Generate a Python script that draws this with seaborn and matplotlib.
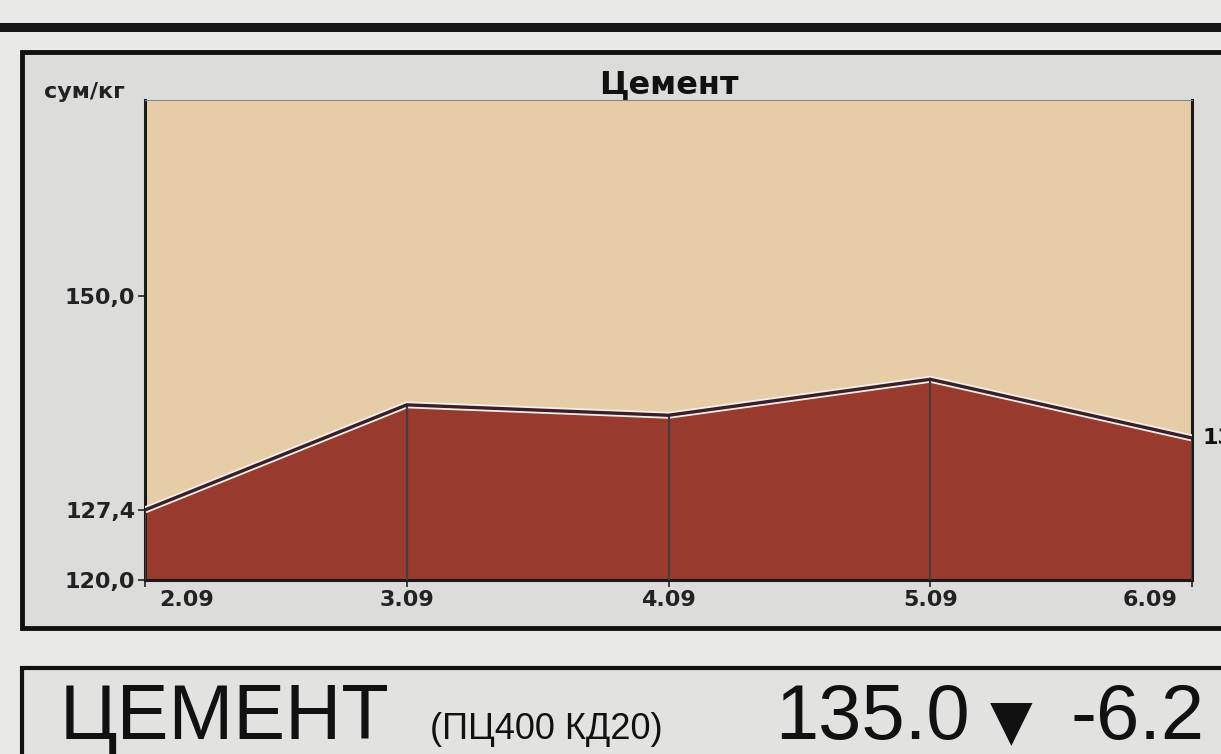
import matplotlib
matplotlib.use("Agg")
import matplotlib.pyplot as plt
import matplotlib.transforms as mtransforms
import seaborn as sns
import pandas as pd
from matplotlib.patches import Rectangle

dates = ["2.09", "3.09", "4.09", "5.09", "6.09"]
prices = [127.4, 138.5, 137.4, 141.2, 135.0]
ytick_vals = [120.0, 127.4, 150.0]
ytick_labels = ["120,0", "127,4", "150,0"]
title = "Цемент"
unit = "сум/кг"
last_label = "135,0"

sns.set_theme(style="white")
plt.rcParams['font.family'] = ['Liberation Sans', 'DejaVu Sans']
CHART_FONT = ["DejaVu Sans"]

W, H = 1221, 754
fig = plt.figure(figsize=(W / 100, H / 100), dpi=100)
fig.patch.set_facecolor("#e9e9e7")

def fx(px): return px / W
def fy(py): return 1 - py / H

# panels (behind the axes)
fig.add_artist(Rectangle((0, fy(32)), 1, 0.012, transform=fig.transFigure,
                         facecolor="#151515", edgecolor="none", zorder=-5))
fig.add_artist(Rectangle((fx(22), fy(628)), 1.1, fy(52) - fy(628), transform=fig.transFigure,
                         facecolor="#dcdcdb", edgecolor="#111111", linewidth=3.5, zorder=-5))
fig.add_artist(Rectangle((fx(22), fy(800)), 1.1, fy(668) - fy(800), transform=fig.transFigure,
                         facecolor="#e2e2e0", edgecolor="#111111", linewidth=3.0, zorder=-5))

ax = fig.add_axes([fx(145), fy(580), fx(1192) - fx(145), fy(100) - fy(580)])
ax.set_zorder(2)
ax.set_facecolor("#e7cda7")

df = pd.DataFrame({"date": dates, "price": prices})
xs = list(range(len(dates)))
df["x"] = xs
ymin, ymax = 120.0, 170.7
ax.fill_between(df["x"], ymin, df["price"], color="#983a2d", zorder=2)
sns.lineplot(data=df, x="x", y="price", ax=ax, color="#f4efe6", linewidth=5, zorder=3)
sns.lineplot(data=df, x="x", y="price", ax=ax, color="#3a1e2a", linewidth=2.4, zorder=4)
for x, p in zip(xs, prices):
    ax.plot([x, x], [ymin, p], color="#4a3a3a", linewidth=1.6, zorder=3)

ax.set_xlim(0, len(dates) - 1)
ax.set_ylim(ymin, ymax)
ax.set_xlabel("")
ax.set_ylabel("")
for s in ax.spines.values():
    s.set_color("#1a1a1a")
    s.set_linewidth(2.2)
ax.spines["top"].set_linewidth(0.8)
ax.spines["top"].set_color("#888888")

ax.set_yticks(ytick_vals)
ax.set_yticklabels(ytick_labels, fontsize=16, fontweight="bold", color="#222222", family=CHART_FONT)
ax.set_xticks(xs)
ax.set_xticklabels(dates, fontsize=16, fontweight="bold", color="#222222", family=CHART_FONT)
ax.tick_params(axis="both", length=5, width=1.2, color="#222222", pad=2, left=True, bottom=True)
xl = ax.get_xticklabels()
xl[0].set_ha("left")
xl[-1].set_ha("right")
xl[0].set_transform(xl[0].get_transform() + mtransforms.ScaledTranslation(0.14, 0, fig.dpi_scale_trans))
xl[-1].set_transform(xl[-1].get_transform() + mtransforms.ScaledTranslation(-0.14, 0, fig.dpi_scale_trans))

ax.text(0.5, 1.0, title, transform=ax.transAxes, ha="center", va="bottom",
        fontsize=23, fontweight="bold", color="#111111", family=CHART_FONT)
fig.text(fx(44), fy(92), unit, ha="left", va="center", fontsize=16, fontweight="bold",
         color="#222222", family=CHART_FONT, zorder=5)
ax.text(1.01, prices[-1], last_label, transform=ax.get_yaxis_transform(), ha="left", va="center",
        fontsize=16, fontweight="bold", color="#111111", clip_on=False, family=CHART_FONT)

# bottom strip text
fig.text(fx(60), fy(739), "ЦЕМЕНТ", ha="left", va="baseline", fontsize=56, color="#111111")
fig.text(fx(430), fy(739), "(ПЦ400 КД20)", ha="left", va="baseline", fontsize=26, color="#111111")
fig.text(fx(775), fy(739), "135.0", ha="left", va="baseline", fontsize=56, color="#111111")
fig.text(fx(990), fy(739), "▼", ha="left", va="baseline", fontsize=40, color="#111111",
         family=["DejaVu Sans"])
fig.text(fx(1070), fy(739), "-6.2", ha="left", va="baseline", fontsize=56, color="#111111")

fig.savefig("out.png", dpi=100, facecolor=fig.get_facecolor())
